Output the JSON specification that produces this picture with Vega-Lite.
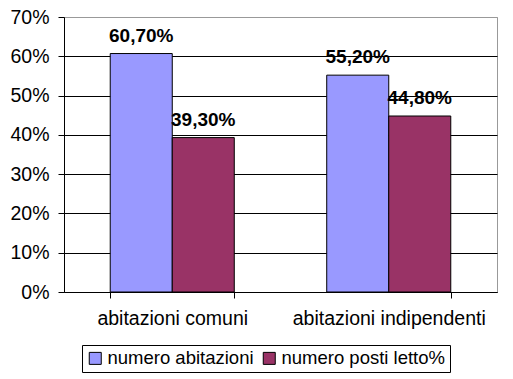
{
  "$schema": "https://vega.github.io/schema/vega-lite/v6.json",
  "width": 433,
  "height": 275,
  "autosize": {"type": "none"},
  "padding": {"left": 64, "top": 17, "right": 16, "bottom": 87},
  "background": "white",
  "config": {
    "font": "Liberation Sans",
    "view": {"stroke": "#999999", "strokeWidth": 1}
  },
  "data": {
    "values": [
      {"categoria": "abitazioni comuni", "serie": "numero abitazioni", "valore": 0.607, "etichetta": "60,70%"},
      {"categoria": "abitazioni comuni", "serie": "numero posti letto%", "valore": 0.393, "etichetta": "39,30%"},
      {"categoria": "abitazioni indipendenti", "serie": "numero abitazioni", "valore": 0.552, "etichetta": "55,20%"},
      {"categoria": "abitazioni indipendenti", "serie": "numero posti letto%", "valore": 0.448, "etichetta": "44,80%"}
    ]
  },
  "encoding": {
    "x": {
      "field": "categoria",
      "type": "nominal",
      "sort": ["abitazioni comuni", "abitazioni indipendenti"],
      "scale": {"paddingInner": 0.427, "paddingOuter": 0.2135},
      "axis": {
        "title": null,
        "labelAngle": 0,
        "labelLimit": 0,
        "tickBand": "extent",
        "tickSize": 6,
        "tickColor": "black",
        "domainColor": "black",
        "labelFontSize": 19.5,
        "labelColor": "black",
        "labelPadding": 11,
        "grid": false
      }
    },
    "xOffset": {"field": "serie", "sort": ["numero abitazioni", "numero posti letto%"]},
    "y": {
      "field": "valore",
      "type": "quantitative",
      "scale": {"domain": [0, 0.7], "nice": false},
      "axis": {
        "title": null,
        "values": [0, 0.1, 0.2, 0.3, 0.4, 0.5, 0.6, 0.7],
        "format": ".0%",
        "grid": true,
        "gridColor": {"condition": {"test": "datum.value >= 0.69", "value": "#999999"}, "value": "black"},
        "domainColor": "black",
        "tickColor": "black",
        "tickSize": 6,
        "labelFontSize": 19.5,
        "labelColor": "black",
        "labelPadding": 9
      }
    }
  },
  "layer": [
    {
      "mark": {"type": "bar", "stroke": "black", "strokeWidth": 1},
      "encoding": {
        "color": {
          "field": "serie",
          "type": "nominal",
          "sort": ["numero abitazioni", "numero posti letto%"],
          "scale": {"domain": ["numero abitazioni", "numero posti letto%"], "range": ["#9999FF", "#993366"]},
          "legend": {
            "orient": "none",
            "legendX": 18,
            "legendY": 328,
            "direction": "horizontal",
            "title": null,
            "strokeColor": "black",
            "fillColor": "white",
            "padding": 4,
            "symbolType": "square",
            "symbolSize": 144,
            "symbolStrokeColor": "black",
            "symbolStrokeWidth": 1,
            "symbolOpacity": 1,
            "labelFontSize": 18.5,
            "labelLimit": 0,
            "labelColor": "black",
            "columnPadding": 6,
            "labelOffset": 3
          }
        }
      }
    },
    {
      "mark": {"type": "text", "dy": -12, "baseline": "alphabetic", "fontWeight": "bold", "fontSize": 19, "color": "black"},
      "encoding": {"text": {"field": "etichetta"}}
    }
  ]
}
